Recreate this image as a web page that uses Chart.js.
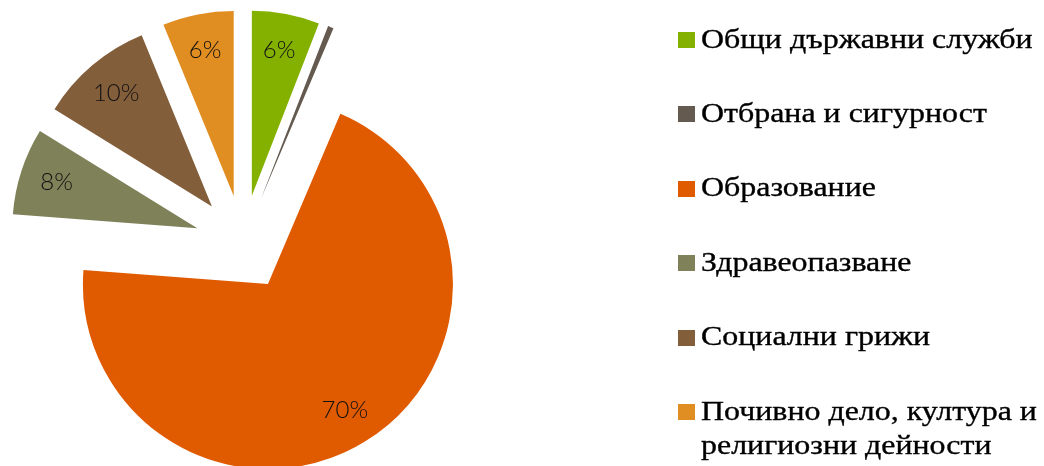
<!DOCTYPE html>
<html><head><meta charset="utf-8">
<script src="https://cdn.jsdelivr.net/npm/chart.js@4"></script>
<style>
html,body{margin:0;padding:0;background:#fff;width:1044px;height:466px;overflow:hidden;}
#wrap{position:relative;width:1044px;height:466px;}
#c{position:absolute;left:0;top:0;}
.lg-box{position:absolute;width:17px;height:16px;}
.lg-txt{position:absolute;font-family:"Liberation Serif","Times New Roman",serif;font-size:28px;line-height:34px;color:#000;white-space:nowrap;transform:scaleX(1.14);transform-origin:0 0;-webkit-text-stroke:0.35px #000;}
</style></head><body>
<div id="wrap"><canvas id="c" width="1044" height="466"></canvas><div id="legend"></div></div>
<script>
const categories = ['Общи държавни служби','Отбрана и сигурност','Образование','Здравеопазване','Социални грижи',['Почивно дело, култура и','религиозни дейности']];
const shares = [5.9, 0.5, 69.8, 7.6, 10.0, 6.2];
const colors = ['#84B000','#645A50','#E05A00','#7F8159','#835E3B','#E08D21'];

const EXPLODE = 48;
const explodePlugin = {
  id: 'explode',
  afterDatasetUpdate(chart, args) {
    args.meta.data.forEach(arc => {
      const mid = (arc.startAngle + arc.endAngle) / 2;
      arc.x += EXPLODE * Math.cos(mid);
      arc.y += EXPLODE * Math.sin(mid);
    });
  }
};
const labelPlugin = {
  id: 'sliceLabels',
  afterDatasetsDraw(chart) {
    const ctx = chart.ctx;
    const meta = chart.getDatasetMeta(0);
    ctx.save();
    ctx.font = '300 24px Lato, "Open Sans", sans-serif';
    ctx.fillStyle = '#111';
    ctx.textAlign = 'center';
    ctx.textBaseline = 'middle';
    meta.data.forEach((arc, i) => {
      const v = shares[i];
      if (v < 1) return;
      const mid = (arc.startAngle + arc.endAngle) / 2;
      const r = arc.outerRadius * 0.8;
      ctx.fillText(Math.round(v) + '%', arc.x + r * Math.cos(mid), arc.y + r * Math.sin(mid));
    });
    ctx.restore();
  }
};

new Chart(document.getElementById('c'), {
  type: 'pie',
  data: {
    labels: categories,
    datasets: [{
      data: shares,
      backgroundColor: colors,
      borderWidth: 0
    }]
  },
  options: {
    responsive: false,
    animation: false,
    events: [],
    radius: 185,
    layout: { padding: { left: 0, right: 558, top: 20, bottom: 0 } },
    plugins: { legend: { display: false }, tooltip: { enabled: false } }
  },
  plugins: [explodePlugin, labelPlugin]
});

// legend
const lg = document.getElementById('legend');
categories.forEach((cat, i) => {
  const cy = 40 + 74.4 * i;
  const box = document.createElement('div');
  box.className = 'lg-box';
  box.style.left = '678px';
  box.style.top = (cy - 8) + 'px';
  box.style.background = colors[i];
  lg.appendChild(box);
  const t = document.createElement('div');
  t.className = 'lg-txt';
  t.style.left = '701px';
  t.style.top = (cy - 18.4) + 'px';
  const lines = Array.isArray(cat) ? cat : [cat];
  lines.forEach((ln, k) => {
    if (k) t.appendChild(document.createElement('br'));
    t.appendChild(document.createTextNode(ln));
  });
  lg.appendChild(t);
});
</script>
</body></html>
